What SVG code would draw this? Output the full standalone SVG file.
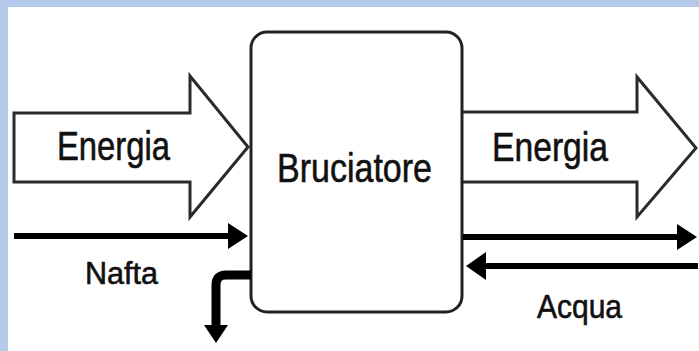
<svg xmlns="http://www.w3.org/2000/svg" width="699" height="351" viewBox="0 0 699 351">
<style>
.big{fill:#fff;stroke:#2a2a2a;stroke-width:3;stroke-linejoin:miter}
.box{fill:#fff;stroke:#222;stroke-width:3}
.ln{fill:none;stroke:#000;stroke-width:6}
.hd{fill:#000}
text{font-family:"Liberation Sans",Arial,sans-serif;fill:#111;stroke:#111;stroke-width:0.6}
</style>
<rect x="0" y="0" width="699" height="351" fill="#fff"/>
<rect x="0" y="0" width="699" height="7" fill="#b5c9ea"/>
<rect x="0" y="0" width="8" height="351" fill="#b5c9ea"/>
<g id="energia-in">
<polygon class="big" points="14,113 190,113 190,76 248,147 190,217 190,182 14,182"/>
<text x="57" y="160" font-size="40" textLength="113" lengthAdjust="spacingAndGlyphs">Energia</text>
</g>
<g id="energia-out">
<polyline class="big" points="463,112 637,112 637,77 696,148 637,217 637,182 463,182"/>
<text x="492" y="161" font-size="40" textLength="116" lengthAdjust="spacingAndGlyphs">Energia</text>
</g>
<g id="bruciatore">
<rect class="box" x="251" y="32" width="211" height="280" rx="16" ry="16"/>
<text x="277" y="182" font-size="41" textLength="155" lengthAdjust="spacingAndGlyphs">Bruciatore</text>
</g>
<g id="connectors">
<line class="ln" x1="14" y1="236" x2="230" y2="236"/>
<polygon class="hd" points="228,223 248,236 228,249"/>
<line class="ln" x1="463" y1="237" x2="679" y2="237"/>
<polygon class="hd" points="677,224 697,237 677,250"/>
<line class="ln" x1="698" y1="266" x2="484" y2="266"/>
<polygon class="hd" points="486,252 466,266 486,280"/>
<path d="M251,275 H226 Q216,275 216,285 V327" fill="none" stroke="#000" stroke-width="9"/>
<polygon class="hd" points="204,325 216,343 228,325"/>
</g>
<g id="labels">
<text x="85" y="284" font-size="31" textLength="73" lengthAdjust="spacingAndGlyphs">Nafta</text>
<text x="537" y="318" font-size="34" textLength="85" lengthAdjust="spacingAndGlyphs">Acqua</text>
</g>
</svg>
